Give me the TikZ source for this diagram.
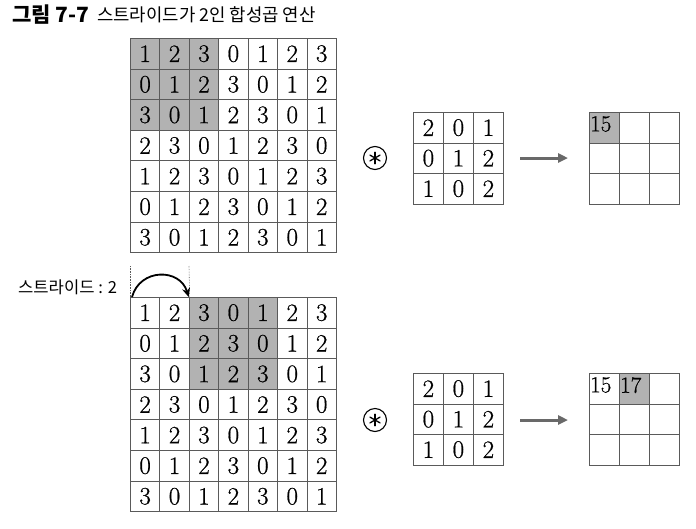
\documentclass[tikz,border=0pt]{standalone}
\usepackage{fontspec}
\newfontfamily\kr{Noto Sans CJK KR}
\newfontfamily\numfont{Latin Modern Roman}[FakeBold=0.7]
\usetikzlibrary{arrows.meta}
\definecolor{shade}{RGB}{178,178,178}
\definecolor{gline}{RGB}{90,90,90}
\definecolor{arrowgray}{RGB}{105,105,105}
\tikzset{
  cellbox/.style={draw=gline, line width=0.8pt, minimum width=29.43pt, minimum height=30.6pt, inner sep=0pt, anchor=north west, font=\numfont\fontsize{25}{25}\selectfont},
  kcell/.style={draw=gline, line width=0.8pt, minimum width=30pt, minimum height=30.5pt, inner sep=0pt, anchor=north west, font=\numfont\fontsize{25}{25}\selectfont},
  hl/.style={fill=shade},
  outnum/.style={font=\numfont\fontsize{23}{23}\selectfont, anchor=north west, inner sep=0pt},
  bigarrow/.style={draw=arrowgray, line width=3pt, -{Triangle[length=10pt,width=9pt]}},
  opsym/.style={circle, draw=black, line width=1.1pt, minimum size=23pt, inner sep=0pt},
  star/.style={draw=black, line width=1.3pt, line cap=round},
  lbl/.style={font=\kr\fontsize{16.6}{17}\selectfont, anchor=west, inner sep=0pt},
}
\begin{document}
\begin{tikzpicture}[x=1pt,y=-1pt]
\useasboundingbox (0,0) rectangle (696,528);
% title
\node[lbl, font=\kr\bfseries\fontsize{21}{21}\selectfont] (titleno) at (12,15) {그림 7-7};
\node[lbl, font=\kr\fontsize{17.8}{18}\selectfont] (title) at (97,15) {스트라이드가 2인 합성곱 연산};
% input grids
\def\gridrows{{{1,2,3,0,1,2,3},{0,1,2,3,0,1,2},{3,0,1,2,3,0,1},{2,3,0,1,2,3,0},{1,2,3,0,1,2,3},{0,1,2,3,0,1,2},{3,0,1,2,3,0,1}}}
\foreach \r in {0,...,6}{
  \foreach \c in {0,...,6}{
    \pgfmathtruncatemacro{\v}{\gridrows[\r][\c]}
    \pgfmathtruncatemacro{\hA}{(\r<3)&&(\c<3)}
    \pgfmathtruncatemacro{\hB}{(\r<3)&&(\c>1)&&(\c<5)}
    \ifnum\hA=1
      \node[cellbox,hl] (a-\r-\c) at ({130+29.43*\c},{38+30.6*\r}) {\v};
    \else
      \node[cellbox] (a-\r-\c) at ({130+29.43*\c},{38+30.6*\r}) {\v};
    \fi
    \ifnum\hB=1
      \node[cellbox,hl] (b-\r-\c) at ({130+29.43*\c},{297+30.6*\r}) {\v};
    \else
      \node[cellbox] (b-\r-\c) at ({130+29.43*\c},{297+30.6*\r}) {\v};
    \fi
  }
}
% kernels
\def\kern{{{2,0,1},{0,1,2},{1,0,2}}}
\foreach \r in {0,...,2}{
  \foreach \c in {0,...,2}{
    \pgfmathtruncatemacro{\v}{\kern[\r][\c]}
    \node[kcell] (ka-\r-\c) at ({413+30*\c},{112+30.5*\r}) {\v};
    \node[kcell] (kb-\r-\c) at ({413+30*\c},{373+30.5*\r}) {\v};
    \node[kcell] (oa-\r-\c) at ({589+30*\c},{112+30.5*\r}) {};
    \node[kcell] (ob-\r-\c) at ({589+30*\c},{373+30.5*\r}) {};
  }
}
\node[kcell,hl,anchor=center] (oa-hl) at (oa-0-0.center) {};
\node[outnum] (va) at (590,116) {15};
\node[kcell,hl,anchor=center] (ob-hl) at (ob-0-1.center) {};
\node[outnum] (vb1) at (590,377) {15};
\node[outnum] (vb2) at (620,377) {17};
% operators
\node[opsym] (opa) at (375,158) {};
\node[opsym] (opb) at (375,420) {};
\foreach \o in {opa,opb}{
  \foreach \ang in {90,30,150}{
    \draw[star] ([shift={(\ang:5.8pt)}]\o.center) -- ([shift={(\ang+180:5.8pt)}]\o.center);
  }
}
% arrows
\coordinate (arA1) at (520,158);
\coordinate (arA2) at (568,158);
\coordinate (arB1) at (520,420);
\coordinate (arB2) at (568,420);
\draw[bigarrow] (arA1) -- (arA2);
\draw[bigarrow] (arB1) -- (arB2);
% stride label
\node[lbl] (stride) at (18,287) {스트라이드 : 2};
\coordinate (d1t) at (130,266);
\coordinate (d2t) at (189,266);
\draw[gline, densely dotted, line width=0.6pt] (d1t) -- (b-0-0.north west);
\draw[gline, densely dotted, line width=0.6pt] (d2t) -- (b-0-1.north east);
\draw[black, line width=1.8pt, -{Stealth[length=9pt,width=8pt]}] ([xshift=2pt]b-0-0.north west) .. controls (140,268) and (180,268) .. ([xshift=-1pt]b-0-1.north east);
\end{tikzpicture}
\end{document}
